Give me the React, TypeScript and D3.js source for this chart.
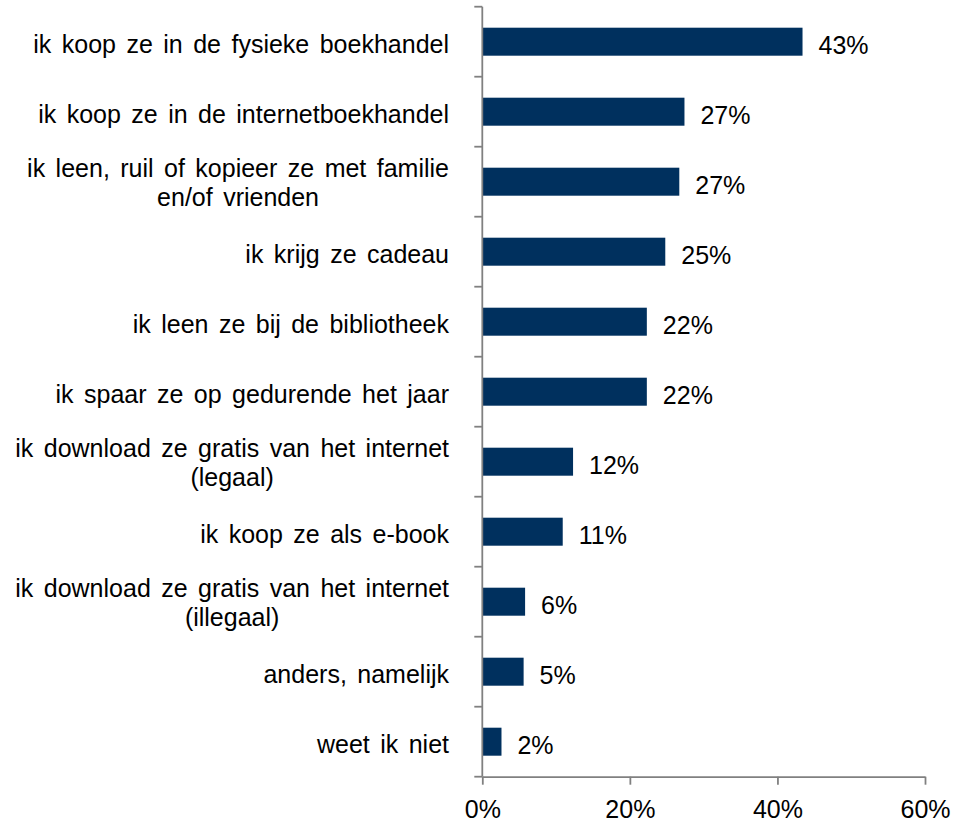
import React, { useEffect, useRef } from "react";
import * as d3 from "d3";

const categories: string[][] = [
  ["ik koop ze in de fysieke boekhandel"],
  ["ik koop ze in de internetboekhandel"],
  ["ik leen, ruil of kopieer ze met familie", "en/of vrienden"],
  ["ik krijg ze cadeau"],
  ["ik leen ze bij de bibliotheek"],
  ["ik spaar ze op gedurende het jaar"],
  ["ik download ze gratis van het internet", "(legaal)"],
  ["ik koop ze als e-book"],
  ["ik download ze gratis van het internet", "(illegaal)"],
  ["anders, namelijk"],
  ["weet ik niet"],
];
const values: number[] = [43.4, 27.4, 26.7, 24.8, 22.3, 22.3, 12.3, 10.9, 5.8, 5.6, 2.6];
const valueLabels: string[] = ["43%", "27%", "27%", "25%", "22%", "22%", "12%", "11%", "6%", "5%", "2%"];
const xTicks: number[] = [0, 20, 40, 60];

const W = 953;
const H = 825;
const FONT = "'Liberation Sans', Arial, Helvetica, sans-serif";
const BAR = "#00305E";
const AXIS = "#808080";

export default function App() {
  const ref = useRef<SVGSVGElement | null>(null);

  useEffect(() => {
    const svg = d3.select(ref.current);
    svg.selectAll("*").remove();

    const left = 482.3;
    const right = 925;
    const top = 6.7;
    const bottom = 776.7;

    const ids = categories.map((_, i) => String(i));
    const x = d3.scaleLinear().domain([0, 60]).range([left, right]);
    const y = d3
      .scaleBand<string>()
      .domain(ids)
      .range([top, bottom])
      .paddingInner(0.6)
      .paddingOuter(0.3);

    // bars
    svg
      .append("g")
      .selectAll("rect")
      .data(values)
      .join("rect")
      .attr("x", x(0))
      .attr("y", (_, i) => y(ids[i])!)
      .attr("width", (d) => x(d) - x(0))
      .attr("height", y.bandwidth())
      .attr("fill", BAR);

    // value labels
    svg
      .append("g")
      .selectAll("text")
      .data(values)
      .join("text")
      .attr("x", (d) => x(d) + 16)
      .attr("y", (_, i) => y(ids[i])! + y.bandwidth() / 2 + 12)
      .attr("font-family", FONT)
      .attr("font-size", 25)
      .attr("fill", "#000")
      .text((_, i) => valueLabels[i]);

    // left axis line + category boundary ticks
    const gl = svg.append("g");
    gl.append("line")
      .attr("x1", left)
      .attr("x2", left)
      .attr("y1", top)
      .attr("y2", bottom)
      .attr("stroke", AXIS)
      .attr("stroke-width", 1.8);
    const bounds = d3.range(ids.length + 1).map((k) => top + k * y.step());
    gl.selectAll("line.tick")
      .data(bounds)
      .join("line")
      .attr("class", "tick")
      .attr("x1", left - 8)
      .attr("x2", left)
      .attr("y1", (d) => d)
      .attr("y2", (d) => d)
      .attr("stroke", AXIS)
      .attr("stroke-width", 1.8);

    // bottom axis
    const gx = svg
      .append("g")
      .attr("transform", `translate(0,${bottom})`)
      .call(
        d3
          .axisBottom(x)
          .tickValues(xTicks)
          .tickSize(8)
          .tickSizeOuter(0)
          .tickFormat((d) => `${d}%`)
      );
    gx.select(".domain").attr("stroke", AXIS).attr("stroke-width", 1.8);
    gx.selectAll(".tick line").attr("stroke", AXIS).attr("stroke-width", 1.8);
    gx.selectAll(".tick text")
      .attr("y", 41.5)
      .attr("dy", 0)
      .attr("fill", "#000")
      .attr("font-family", FONT)
      .attr("font-size", 25);

    // category labels
    const labelRight = 449;
    const lineGap = 28.5;
    const gc = svg.append("g");
    categories.forEach((lines, i) => {
      const cy = y(ids[i])! + y.bandwidth() / 2;
      const n = lines.length;
      const texts = lines.map((ln, j) =>
        gc
          .append("text")
          .attr("font-family", FONT)
          .attr("font-size", 25)
          .attr("word-spacing", 3.5)
          .attr("fill", "#000")
          .attr("y", n === 1 ? cy + 11 : cy + 10 + (j - (n - 1) / 2) * lineGap)
          .text(ln)
      );
      const widths = texts.map((t) => (t.node() as SVGTextElement).getComputedTextLength());
      const maxW = d3.max(widths) || 0;
      const cx = labelRight - maxW / 2;
      texts.forEach((t) => t.attr("x", cx).attr("text-anchor", "middle"));
    });
  }, []);

  return (
    <svg
      ref={ref}
      width={W}
      height={H}
      style={{ position: "absolute", left: 0, top: 0, background: "#fff" }}
    />
  );
}
